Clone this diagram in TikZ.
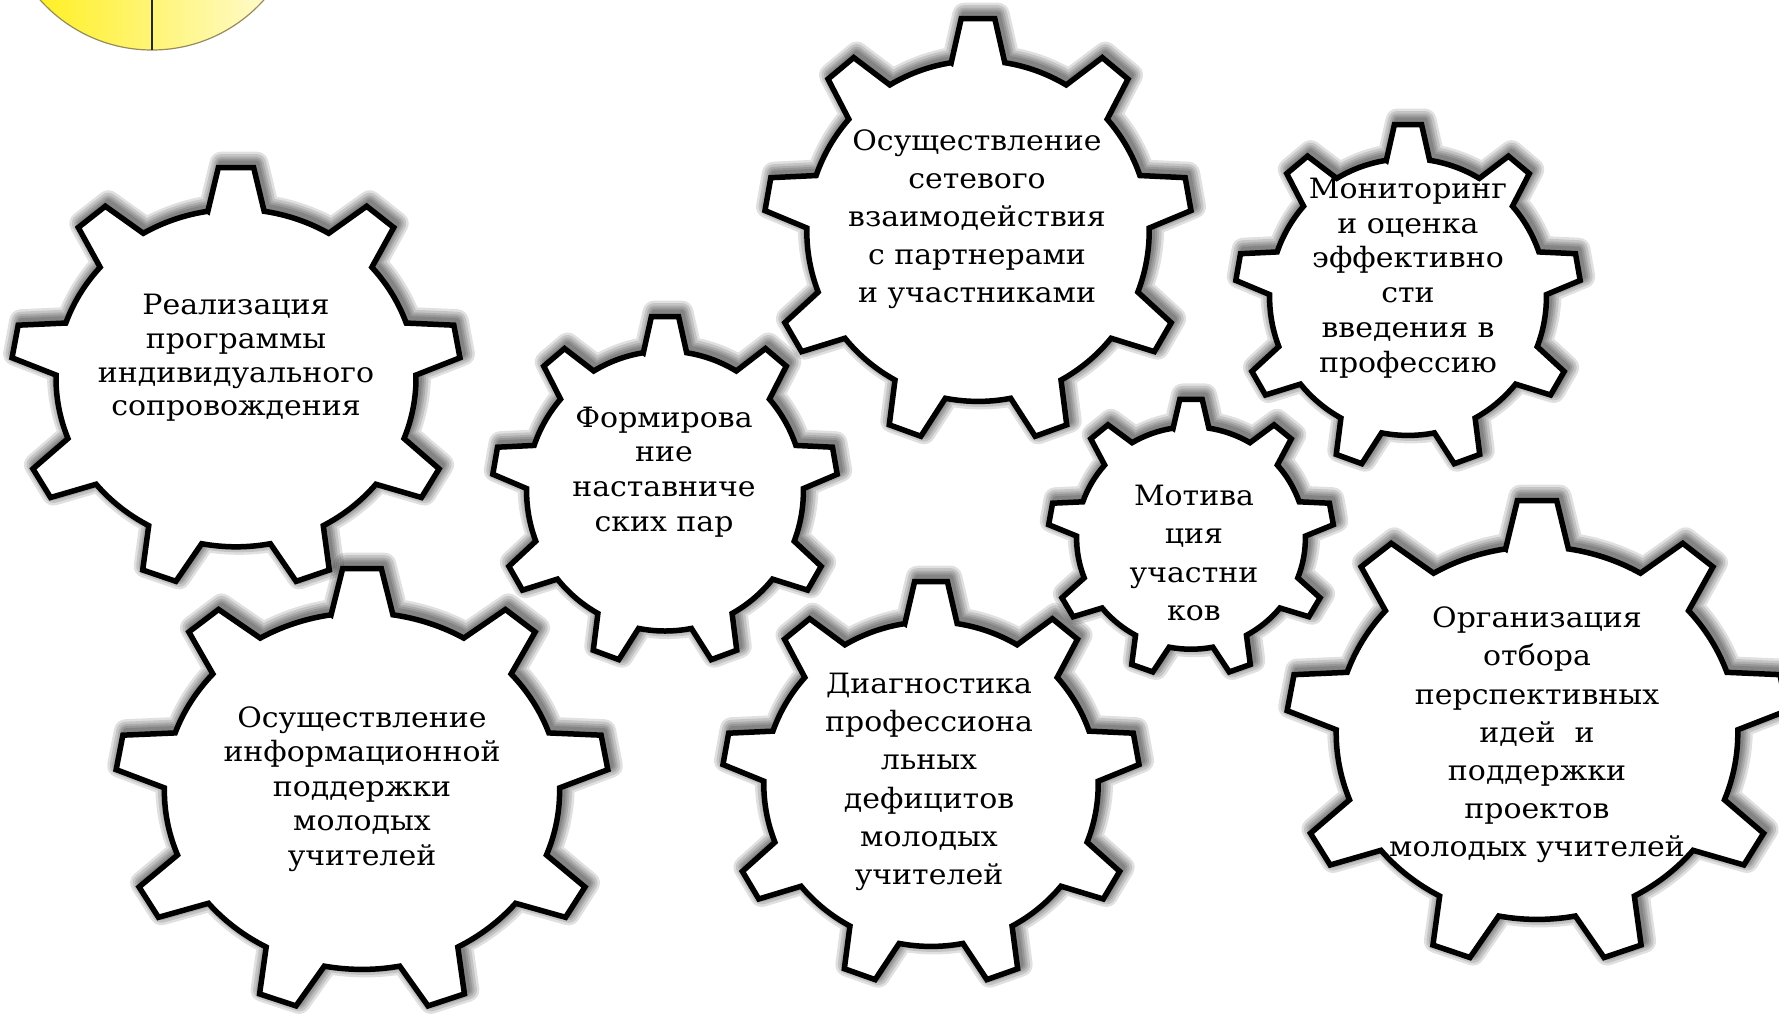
\documentclass[tikz,border=0pt]{standalone}
\usepackage{fontspec}
\setmainfont{DejaVu Serif}[FakeStretch=1.07]
\definecolor{sunA}{RGB}{255,238,10}
\definecolor{sunB}{RGB}{255,246,140}
\definecolor{sunC}{RGB}{255,252,228}
\definecolor{sunEdge}{RGB}{150,140,90}
\tikzset{
  gearline/.style={draw=black, line width=5.5pt, line join=miter},
  gearshadow/.style={draw=black, opacity=0.12, line join=round},
  geartext/.style={align=center, inner sep=0pt, text=black},
}
\newcommand\gearpath{(-99:0.8) \foreach \k in {0,...,8} { -- ({-90+40*\k-4.5}:1) -- ({-90+40*\k+4.5}:1) -- ({-90+40*\k+9}:0.8) arc[start angle={-90+40*\k+9}, end angle={-90+40*\k+31}, radius=0.8] } -- cycle}
\newcommand\drawgear[4]{%
  \begin{scope}[shift={(#1+3,#2-4)}, xscale=#3, yscale=#4]
    \foreach \w in {24,19,14,10,6} {\draw[gearshadow, line width=\w pt] \gearpath;}
  \end{scope}
  \begin{scope}[shift={(#1,#2)}, xscale=#3, yscale=#4]
    \fill[white] \gearpath;
    \draw[gearline] \gearpath;
  \end{scope}}
\begin{document}
\begin{tikzpicture}[x=1pt, y=-1pt]
\useasboundingbox (0,0) rectangle (1779,1013);
\fill[white] (0,0) rectangle (1779,1013);
\clip (0,0) rectangle (1779,1013);
% sun-like circle
\shade[left color=sunA, middle color=sunB, right color=sunC] (152,-100) circle[radius=150];
\draw[sunEdge, line width=1.2pt] (152,-100) circle[radius=150];
\coordinate (sc) at (152,-100);
\coordinate (sb) at (152,50);
\draw[black!85, line width=1.8pt] (sc) -- (sb);
% gears
\drawgear{236}{378}{225}{211}
\drawgear{665}{491}{173}{175}
\drawgear{978}{231}{214}{213}
\drawgear{1408}{297}{173}{173}
\drawgear{362}{791}{247}{223}
\drawgear{1191}{538}{143}{139}
\drawgear{931}{784}{209}{203}
\drawgear{1537}{733}{251}{233}
% texts
\node[geartext, font={\fontsize{28}{33.7}\selectfont}] (t1) at (236,358) {Реализация\\программы\\индивидуального\\сопровождения};
\node[geartext, font={\fontsize{28}{34.8}\selectfont}] (t2) at (664,472) {Формирова\\ние\\наставниче\\ских пар};
\node[geartext, font={\fontsize{28}{38}\selectfont}] (t3) at (977,219) {Осуществление\\сетевого\\взаимодействия\\с партнерами\\и участниками};
\node[geartext, font={\fontsize{28}{34.7}\selectfont}] (t4) at (1408,278) {Мониторинг\\и оценка\\эффективно\\сти\\введения в\\профессию};
\node[geartext, font={\fontsize{28}{34.6}\selectfont}] (t5) at (362,789) {Осуществление\\информационной\\поддержки\\молодых\\учителей};
\node[geartext, font={\fontsize{28}{38.2}\selectfont}] (t6) at (1194,553) {Мотива\\ция\\участни\\ков};
\node[geartext, font={\fontsize{28}{38.3}\selectfont}] (t7) at (929,782) {Диагностика\\профессиона\\льных\\дефицитов\\молодых\\учителей};
\node[geartext, font={\fontsize{28}{38.2}\selectfont}] (t8) at (1537,735) {Организация\\отбора\\перспективных\\идей\ \ и\\поддержки\\проектов\\молодых учителей};
\end{tikzpicture}
\end{document}
